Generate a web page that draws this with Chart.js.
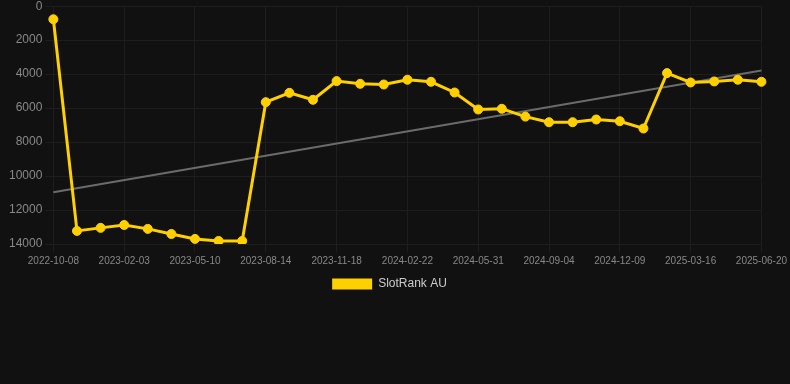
<!DOCTYPE html>
<html>
<head>
<meta charset="utf-8">
<script src="https://cdn.jsdelivr.net/npm/chart.js@4"></script>
<style>
  html, body { margin: 0; padding: 0; background: #111111; overflow: hidden; }
  #wrap { width: 790px; height: 304px; margin-top: -4px; }
</style>
</head>
<body>
<div id="wrap"><canvas id="myChart"></canvas></div>
<script>
const labels = [
  '2022-10-08', '2022-11-17', '2022-12-27', '2023-02-03', '2023-03-07', '2023-04-08',
  '2023-05-10', '2023-06-11', '2023-07-13', '2023-08-14', '2023-09-15', '2023-10-17',
  '2023-11-18', '2023-12-20', '2024-01-21', '2024-02-22', '2024-03-25', '2024-04-28',
  '2024-05-31', '2024-07-02', '2024-08-03', '2024-09-04', '2024-10-06', '2024-11-07',
  '2024-12-09', '2025-01-10', '2025-02-11', '2025-03-16', '2025-04-17', '2025-05-19',
  '2025-06-20'
];
const rankAU = [
  770, 13230, 13050, 12880, 13110, 13410, 13700, 13820, 13820,
  5650, 5100, 5510, 4410, 4570, 4610, 4330, 4450, 5080, 6080, 6040, 6500,
  6830, 6830, 6670, 6770, 7200, 3940, 4490, 4430, 4330, 4450
];
// trend line: value at first and last date
const trendEnds = [10950, 3780];
const yTicks = [0, 2000, 4000, 6000, 8000, 10000, 12000, 14000];

const trend = labels.map((l, i) => {
  if (i === 0) return trendEnds[0];
  if (i === labels.length - 1) return trendEnds[1];
  return null;
});

const font = 'Liberation Sans, Arial, sans-serif';
const ctx = document.getElementById('myChart').getContext('2d');
new Chart(ctx, {
  type: 'line',
  data: {
    labels: labels,
    datasets: [
      {
        label: 'SlotRank AU',
        data: rankAU,
        borderColor: '#FFD000',
        backgroundColor: '#FFD000',
        borderWidth: 3,
        pointRadius: 4.5,
        pointBorderWidth: 1,
        pointHoverRadius: 5,
        tension: 0
      },
      {
        label: 'trend',
        data: trend,
        borderColor: '#6b6b6b',
        borderWidth: 2,
        pointRadius: 0,
        spanGaps: true,
        tension: 0
      }
    ]
  },
  options: {
    responsive: true,
    maintainAspectRatio: false,
    animation: false,
    layout: { padding: { top: 2, right: 17, left: 6, bottom: 0 } },
    plugins: {
      legend: {
        position: 'bottom',
        labels: {
          color: '#cccccc',
          font: { size: 12, family: font },
          boxWidth: 40,
          boxHeight: 11,
          padding: 8,
          generateLabels: chart => [{
            text: 'SlotRank AU',
            fillStyle: '#FFD000',
            strokeStyle: '#FFD000',
            lineWidth: 0,
            fontColor: '#cccccc',
            datasetIndex: 0
          }]
        }
      },
      tooltip: { enabled: false }
    },
    scales: {
      x: {
        grid: {
          color: c => (c.index % 3 === 0 ? '#1e1e1e' : 'rgba(0,0,0,0)'),
          tickLength: 8
        },
        border: { display: false },
        ticks: {
          color: '#888888',
          font: { size: 10, family: font },
          maxRotation: 0,
          autoSkip: false,
          callback: function (v, i) { return i % 3 === 0 ? labels[i] : ''; }
        }
      },
      y: {
        reverse: true,
        min: 0,
        max: 14000,
        grid: { color: '#1e1e1e' },
        border: { display: false },
        afterBuildTicks: axis => { axis.ticks = yTicks.map(v => ({ value: v })); },
        ticks: {
          color: '#888888',
          font: { size: 12, family: font },
          callback: v => String(v)
        }
      }
    }
  }
});
</script>
</body>
</html>
